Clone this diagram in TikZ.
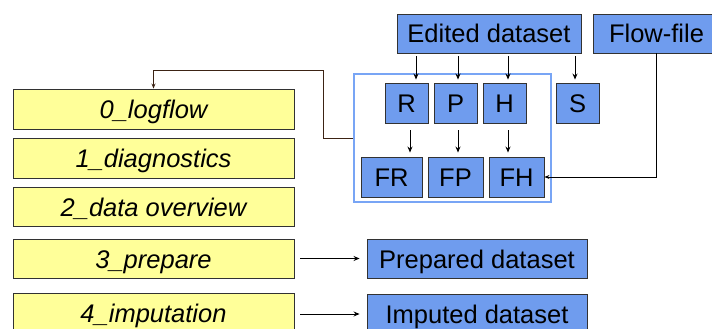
\documentclass[tikz,border=0pt]{standalone}
\usepackage{fontspec}
\setmainfont{Liberation Sans}
\usetikzlibrary{arrows.meta}
\definecolor{boxblue}{RGB}{111,156,238}
\definecolor{boxyellow}{RGB}{255,255,153}
\definecolor{framblue}{RGB}{120,165,245}
\definecolor{edgegray}{RGB}{50,50,50}
\definecolor{linkbrown}{RGB}{60,35,20}
\tikzset{
  bbox/.style={draw=edgegray, line width=0.9pt, fill=boxblue, inner sep=0pt, text height=19pt, text depth=0pt, font=\fontsize{25.5}{30}\selectfont},
  ybox/.style={draw=edgegray, line width=0.9pt, fill=boxyellow, inner sep=0pt, text height=19.5pt, text depth=0pt, minimum width=281pt, font=\fontsize{25.5}{30}\selectfont\itshape},
  arr/.style={draw=black, line width=1pt, -{Stealth[length=6pt,width=5pt]}},
}
\begin{document}
\begin{tikzpicture}[x=1pt,y=-1pt]
\useasboundingbox (0,0) rectangle (712,329);
\clip (0,0) rectangle (712,329);
\fill[white] (0,0) rectangle (712,329);
% container frame
\node[draw=framblue, line width=1.2pt, inner sep=0pt, minimum width=197pt, minimum height=128pt] (frame) at (452.5,138) {};
% top boxes
\node[bbox, minimum width=184pt, minimum height=39pt] (ed) at (489,33.5) {Edited dataset};
\node[bbox, minimum width=127pt, minimum height=39pt] (ff) at (656.5,33.5) {Flow-file};
% R P H S
\node[bbox, minimum width=43pt, minimum height=40pt] (R) at (406.5,103) {R};
\node[bbox, minimum width=43pt, minimum height=40pt] (P) at (455.5,103) {P};
\node[bbox, minimum width=43pt, minimum height=40pt] (H) at (504.5,103) {H};
\node[bbox, minimum width=43pt, minimum height=40pt] (S) at (577.5,103) {S};
% FR FP FH
\node[bbox, minimum width=61pt, minimum height=40pt] (FR) at (391.5,177) {FR};
\node[bbox, minimum width=55pt, minimum height=40pt] (FP) at (455.5,177) {FP};
\node[bbox, minimum width=55pt, minimum height=40pt] (FH) at (516.5,177) {FH};
% yellow boxes
\node[ybox, minimum height=40pt] (y0) at (153.5,109) {0\_logflow};
\node[ybox, minimum height=40pt] (y1) at (153.5,158) {1\_diagnostics};
\node[ybox, minimum height=39pt] (y2) at (153.5,206.5) {2\_data overview};
\node[ybox, minimum height=39pt] (y3) at (153.5,258.5) {3\_prepare};
\node[ybox, minimum height=40pt] (y4) at (153.5,313) {4\_imputation};
% output boxes
\node[bbox, minimum width=220pt, minimum height=39pt] (prep) at (477,258.5) {Prepared dataset};
\node[bbox, minimum width=220pt, minimum height=40pt] (imp) at (477,314) {Imputed dataset};
% arrows from edited dataset
\draw[arr, shorten <=3pt, shorten >=3pt] ([xshift=9.5pt]R.north |- ed.south) -- ([xshift=9.5pt]R.north);
\draw[arr, shorten <=3pt, shorten >=3pt] ([xshift=2.5pt]P.north |- ed.south) -- ([xshift=2.5pt]P.north);
\draw[arr, shorten <=3pt, shorten >=3pt] ([xshift=3.5pt]H.north |- ed.south) -- ([xshift=3.5pt]H.north);
\draw[arr, shorten <=3pt, shorten >=3pt] ([xshift=-2.5pt]S.north |- ed.south) -- ([xshift=-2.5pt]S.north);
% R P H to F boxes
\draw[arr, shorten <=7pt, shorten >=4pt] ([xshift=3.5pt]R.south) -- ([xshift=3.5pt]R.south |- FR.north);
\draw[arr, shorten <=7pt, shorten >=4pt] ([xshift=2.5pt]P.south) -- ([xshift=2.5pt]P.south |- FP.north);
\draw[arr, shorten <=7pt, shorten >=4pt] ([xshift=3.5pt]H.south) -- ([xshift=3.5pt]H.south |- FH.north);
% flow-file to FH
\draw[line width=1pt, -{Stealth[length=5pt,width=4pt]}] (ff.south) |- (FH.east);
% frame to logflow
\draw[draw=linkbrown, line width=1pt, -{Stealth[length=5pt,width=4pt]}] (frame.west) -- ++(-30,0) |- ([yshift=18pt]y0.north) -- (y0.north);
% outputs
\draw[arr, shorten <=6pt, shorten >=7pt] (y3.east) -- (prep.west);
\draw[arr, shorten <=6pt, shorten >=7pt] (y4.east |- imp.west) -- (imp.west);
\end{tikzpicture}
\end{document}
